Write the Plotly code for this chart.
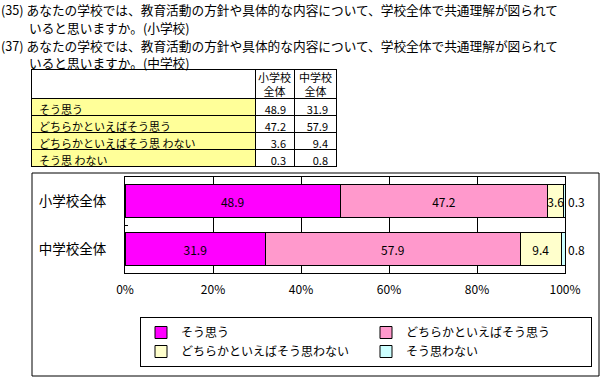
import plotly.graph_objects as go

W, H = 602, 380

# ---- data ----
categories = ["小学校全体", "中学校全体"]
series_names = ["そう思う", "どちらかといえばそう思う", "どちらかといえばそう思わない", "そう思わない"]
table_labels = ["そう思う", "どちらかといえばそう思う", "どちらかといえばそう思 わない", "そう思 わない"]
elementary = [48.9, 47.2, 3.6, 0.3]
junior_high = [31.9, 57.9, 9.4, 0.8]
table_header = ["", "小学校<br>全体", "中学校<br>全体"]
x_ticks = [0, 20, 40, 60, 80, 100]
title_lines = [
    "(35) あなたの学校では、教育活動の方針や具体的な内容について、学校全体で共通理解が図られて",
    "いると思いますか。(小学校)",
    "(37) あなたの学校では、教育活動の方針や具体的な内容について、学校全体で共通理解が図られて",
    "いると思いますか。(中学校)",
]

# ---- style / layout constants ----
colors = ["#FF00FF", "#FF99CC", "#FFFFCC", "#CCFFFF"]
FONT = "Noto Sans CJK JP"
TABLE_LEFT, TABLE_TOP = 31, 69
COL_W = [224, 39, 42]
HEADER_H, ROW_H = 29, 17


def px(x):
    return x / W


def py(y):
    return 1 - y / H


fig = go.Figure()

# table (header text drawn as annotations so the header row keeps its height)
table_bottom = TABLE_TOP + HEADER_H + ROW_H * len(table_labels) + 4
fig.add_trace(go.Table(
    domain=dict(x=[px(TABLE_LEFT), px(TABLE_LEFT + sum(COL_W))], y=[py(table_bottom), py(TABLE_TOP)]),
    columnwidth=COL_W,
    header=dict(values=["" for _ in table_header], fill_color="white",
                line=dict(color="black", width=1), height=HEADER_H),
    cells=dict(values=[table_labels,
                       [f"{v:.1f}" for v in elementary],
                       [f"{v:.1f}" for v in junior_high]],
               fill_color=[["#FFFF99"] * len(table_labels), ["white"] * len(elementary),
                           ["white"] * len(junior_high)],
               line=dict(color="black", width=1),
               align=["left", "right", "right"], height=ROW_H,
               font=dict(family=FONT, size=11, color="black")),
))
left = TABLE_LEFT
for j, htext in enumerate(table_header):
    if htext:
        fig.add_annotation(x=px(left + COL_W[j] / 2), y=py(TABLE_TOP + HEADER_H / 2 + 0.5),
                           xref="paper", yref="paper", xanchor="center", yanchor="middle",
                           text=htext, showarrow=False, borderpad=0,
                           font=dict(family=FONT, size=11, color="black"))
    left += COL_W[j]

for i, name in enumerate(series_names):
    vals = [elementary[i], junior_high[i]]
    last = i == len(series_names) - 1
    fig.add_trace(go.Bar(
        y=categories, x=vals, orientation="h", name=name,
        marker=dict(color=colors[i], line=dict(color="black", width=1)),
        text=[f"{v:.1f}" for v in vals],
        textposition="outside" if last else "inside",
        insidetextanchor="middle",
        constraintext="none",
        textangle=0,
        textfont=dict(family=FONT, size=12, color="black"),
        cliponaxis=False,
        xaxis="x", yaxis="y",
    ))

for k, line in enumerate(title_lines):
    fig.add_annotation(
        x=px(0 if k % 2 == 0 else 28), y=py([10, 27.5, 45, 62.5][k]),
        xref="paper", yref="paper", xanchor="left", yanchor="middle",
        text=line, showarrow=False, borderpad=0,
        font=dict(family=FONT, size=12.7, color="black"),
    )

# outer chart frame
fig.add_shape(type="rect", xref="paper", yref="paper",
              x0=px(32), x1=px(599), y0=py(376), y1=py(173),
              line=dict(color="black", width=1), layer="below")

fig.update_layout(
    width=W, height=H, autosize=False,
    margin=dict(l=0, r=0, t=0, b=0, autoexpand=False),
    paper_bgcolor="white", plot_bgcolor="white",
    barmode="stack", bargap=0.33,
    font=dict(family=FONT, color="black"),
    xaxis=dict(domain=[px(125), px(565)], range=[0, 100], tickvals=x_ticks,
               ticktext=[f"{t}%" for t in x_ticks], showgrid=True, gridcolor="black",
               gridwidth=1, showline=True, linecolor="black", mirror=True, zeroline=False,
               ticks="", tickfont=dict(family=FONT, size=12), ticklabelstandoff=6,
               automargin=False),
    yaxis=dict(domain=[py(273), py(177)], autorange="reversed", showline=True,
               linecolor="black", mirror=True, showgrid=False, tickson="boundaries",
               ticks="inside", ticklen=3, tickcolor="black",
               tickfont=dict(family=FONT, size=13.5), ticklabelstandoff=15,
               automargin=False),
    legend=dict(orientation="h", x=px(140), y=py(317), xanchor="left", yanchor="top",
                bordercolor="black", borderwidth=1, bgcolor="white",
                font=dict(family=FONT, size=12), entrywidth=180, itemwidth=30,
                traceorder="normal"),
    showlegend=True,
)

fig.write_html("out.html", config={"displayModeBar": False},
               post_script="document.body.style.margin='0';")
